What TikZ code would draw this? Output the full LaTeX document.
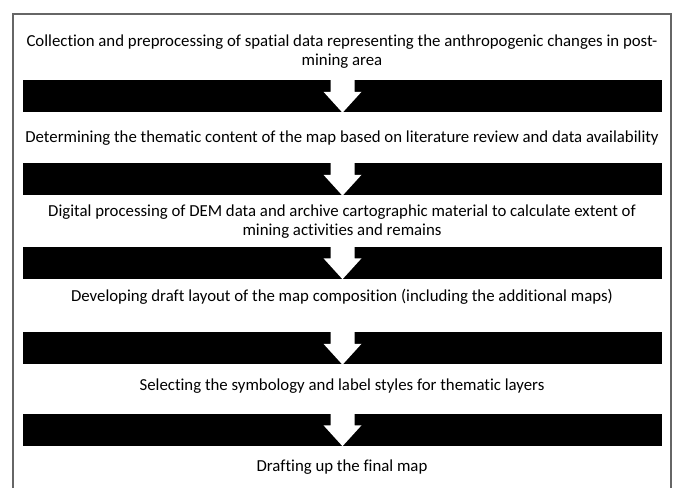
\documentclass[tikz,border=0pt]{standalone}
\usepackage{fontspec}
\setmainfont{Carlito}[Ligatures=NoCommon]
\usepackage{tikz}
\usetikzlibrary{calc}
\definecolor{clFrame}{HTML}{666666}
\tikzset{
  stepbox/.style={align=center, inner sep=0pt, font=\fontsize{16.8}{19}\selectfont},
  bar/.style={rectangle, fill=black, inner sep=0pt, minimum width=639pt, minimum height=32pt},
  cutarrow/.style={fill=white, draw=none},
  frame/.style={draw=clFrame, line width=1.2pt},
}

\begin{document}
\begin{tikzpicture}[x=1pt, y=-1pt]
  \useasboundingbox (0,0) rectangle (677,488);
  % outer frame (open at the bottom)
  \coordinate (fbl) at (13,488); \coordinate (ftl) at (13,14);
  \coordinate (ftr) at (671,14); \coordinate (fbr) at (671,488);
  \draw[frame] (fbl)--(ftl)--(ftr)--(fbr);

  % steps
  \node[stepbox] (s1) at (342,52) {Collection and preprocessing of spatial data representing the anthropogenic changes in post-\\mining area};
  \node[stepbox] (s2) at (342,138) {Determining the thematic content of the map based on literature review and data availability};
  \node[stepbox] (s3) at (342,222) {Digital processing of DEM data and archive cartographic material to calculate extent of\\mining activities and remains};
  \node[stepbox] (s4) at (342,297) {Developing draft layout of the map composition (including the additional maps)};
  \node[stepbox] (s5) at (342,386) {Selecting the symbology and label styles for thematic layers};
  \node[stepbox] (s6) at (342,467) {Drafting up the final map};

  % bars between the steps
  \node[bar] (b1) at (342.5,96) {};
  \node[bar] (b2) at (342.5,179) {};
  \node[bar] (b3) at (342.5,262.5) {};
  \node[bar] (b4) at (342.5,348) {};
  \node[bar] (b5) at (342.5,429.5) {};

  % white arrows cut into the bars
  \foreach \b in {b1,b2,b3,b4,b5}{
    \fill[cutarrow] ($(\b.north)+(-12,0)$) -- ($(\b.north)+(12,0)$) -- ($(\b.north)+(12,12)$)
      -- ($(\b.north)+(19,12)$) -- ($(\b.south)+(0,0.5)$) -- ($(\b.north)+(-19,12)$)
      -- ($(\b.north)+(-12,12)$) -- cycle;
  }
\end{tikzpicture}
\end{document}
